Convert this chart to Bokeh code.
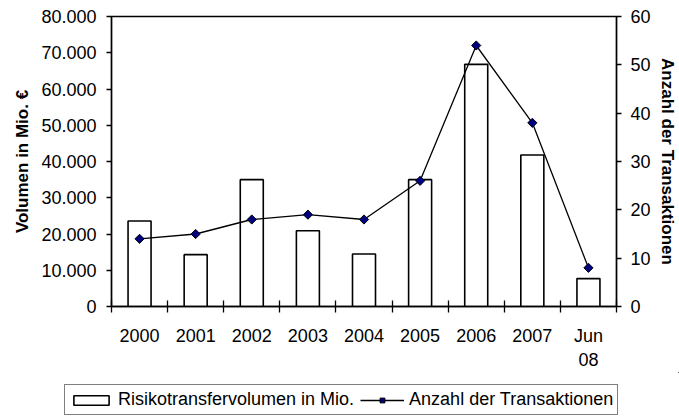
import math
from bokeh.plotting import figure
from bokeh.models import (Range1d, LinearAxis, FixedTicker, Legend, LegendItem,
                          ColumnDataSource)
from bokeh.embed import file_html
from bokeh.resources import INLINE

categories = ["2000", "2001", "2002", "2003", "2004", "2005", "2006", "2007", "Jun\n08"]
volume = [23600, 14300, 35000, 20900, 14500, 35000, 66800, 41800, 7700]
transactions = [14, 15, 18, 19, 18, 26, 54, 38, 8]
left_ticks = [0, 10000, 20000, 30000, 40000, 50000, 60000, 70000, 80000]
left_tick_labels = ["0", "10.000", "20.000", "30.000", "40.000", "50.000",
                    "60.000", "70.000", "80.000"]
right_ticks = [0, 10, 20, 30, 40, 50, 60]

FONT = "Liberation Sans"
n = len(categories)
x_centers = [i + 0.5 for i in range(n)]
x_bounds = [i for i in range(n + 1)]

src = ColumnDataSource(dict(x=x_centers, vol=volume, tr=transactions))

W, H = 679, 372
H2 = 44
FL, FR, FT, FB = 111, 62, 16, 65   # borders around the plot frame

p = figure(width=W, height=H, output_backend="svg", toolbar_location=None,
           x_range=Range1d(0, n), y_range=Range1d(0, 80000),
           min_border_left=FL, min_border_right=FR, min_border_top=FT,
           min_border_bottom=FB, background_fill_color="white",
           border_fill_color="white")
p.grid.visible = False
p.outline_line_color = "black"
p.outline_line_width = 1.3
p.extra_y_ranges = {"n": Range1d(0, 60)}

# x axis
xa = p.xaxis[0]
xa.ticker = FixedTicker(ticks=x_centers, minor_ticks=x_bounds)
xa.major_label_overrides = {c: lab for c, lab in zip(x_centers, categories)}
xa.major_tick_in = 0
xa.major_tick_out = 0
xa.minor_tick_in = 6
xa.minor_tick_out = 6
xa.minor_tick_line_color = "black"
xa.minor_tick_line_width = 1.3
xa.axis_line_width = 1.5
xa.major_label_standoff = 13
xa.major_label_text_font = FONT
xa.major_label_text_font_size = "18px"
xa.major_label_text_color = "black"

# left axis
ya = p.yaxis[0]
ya.ticker = FixedTicker(ticks=left_ticks)
ya.major_label_overrides = {v: lab for v, lab in zip(left_ticks, left_tick_labels)}
ya.minor_tick_line_color = None
ya.major_tick_in = 0
ya.major_tick_out = 5
ya.major_tick_line_width = 1.3
ya.axis_line_width = 1.5
ya.major_label_standoff = 10
ya.major_label_text_font = FONT
ya.major_label_text_font_size = "18px"
ya.major_label_text_color = "black"
ya.axis_label = "Volumen in Mio. €"
ya.axis_label_text_font = FONT
ya.axis_label_text_font_size = "17px"
ya.axis_label_text_font_style = "bold"
ya.axis_label_text_color = "black"
ya.axis_label_standoff = 6

# right axis
ra = LinearAxis(y_range_name="n", ticker=FixedTicker(ticks=right_ticks))
ra.minor_tick_line_color = None
ra.major_tick_in = 0
ra.major_tick_out = 5
ra.major_tick_line_width = 1.3
ra.axis_line_width = 1.5
ra.major_label_standoff = 9
ra.major_label_text_font = FONT
ra.major_label_text_font_size = "18px"
ra.major_label_text_color = "black"
ra.axis_label = "Anzahl der Transaktionen"
ra.axis_label_text_font = FONT
ra.axis_label_text_font_size = "17px"
ra.axis_label_text_font_style = "bold"
ra.axis_label_text_color = "black"
ra.axis_label_standoff = 4
p.add_layout(ra, "right")

p.vbar(x="x", top="vol", width=0.41, source=src, fill_color="white",
       line_color="black", line_width=1.6)
p.line(x="x", y="tr", source=src, y_range_name="n", line_color="black",
       line_width=1.3)
p.scatter(x="x", y="tr", source=src, y_range_name="n", marker="square",
          angle=math.pi / 4, size=6.5, fill_color="#000080",
          line_color="black", line_width=1)

# legend strip below the chart: its swatch renderers lie outside its view
p2 = figure(width=W, height=H2, output_backend="svg", toolbar_location=None,
            x_axis_location=None, y_axis_location=None,
            x_range=Range1d(-21, -20), y_range=Range1d(-2, -1),
            min_border_left=0, min_border_right=0, min_border_top=0,
            min_border_bottom=0, outline_line_color=None,
            background_fill_color="white", border_fill_color="white")
p2.grid.visible = False
lb = p2.vbar(x="x", top="vol", width=0.41, source=src, fill_color="white",
             line_color="black", line_width=1.6)
ll = p2.line(x="x", y="tr", source=src, line_color="black", line_width=1.3)
lp = p2.scatter(x="x", y="tr", source=src, marker="square", angle=math.pi / 4,
                size=6.5, fill_color="#000080", line_color="black", line_width=1)

legend = Legend(items=[
    LegendItem(label="Risikotransfervolumen in Mio.", renderers=[lb]),
    LegendItem(label="Anzahl der Transaktionen", renderers=[ll, lp]),
], location=(64, 1), orientation="horizontal",
    border_line_color="black", border_line_width=1, padding=4, spacing=6,
    label_standoff=5, glyph_width=44, glyph_height=12, margin=0,
    label_text_font=FONT, label_text_font_size="18px",
    label_text_color="black", background_fill_color="white",
    background_fill_alpha=1)
p2.add_layout(legend, "center")

open("out.html", "w").write(file_html([p, p2], INLINE))
